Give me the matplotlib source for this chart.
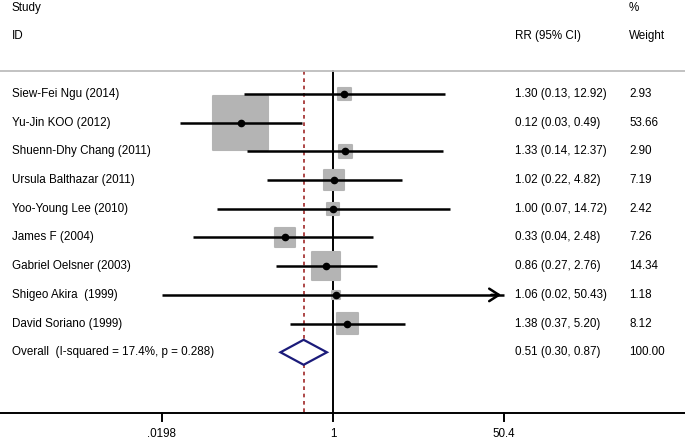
import numpy as np
import matplotlib
matplotlib.use("Agg")
import matplotlib.pyplot as plt

plt.rcParams['font.family'] = ['Liberation Sans', 'DejaVu Sans']

studies = ["Siew-Fei Ngu (2014)", "Yu-Jin KOO (2012)", "Shuenn-Dhy Chang (2011)",
           "Ursula Balthazar (2011)", "Yoo-Young Lee (2010)", "James F (2004)",
           "Gabriel Oelsner (2003)", "Shigeo Akira  (1999)", "David Soriano (1999)"]
rr = [1.30, 0.12, 1.33, 1.02, 1.00, 0.33, 0.86, 1.06, 1.38]
lo = [0.13, 0.03, 0.14, 0.22, 0.07, 0.04, 0.27, 0.02, 0.37]
hi = [12.92, 0.49, 12.37, 4.82, 14.72, 2.48, 2.76, 50.43, 5.20]
weights = [2.93, 53.66, 2.90, 7.19, 2.42, 7.26, 14.34, 1.18, 8.12]
overall_label = "Overall  (I-squared = 17.4%, p = 0.288)"
overall = (0.51, 0.30, 0.87)
overall_weight = 100.00
xticks = [0.0198, 1, 50.4]
xticklabels = [".0198", "1", "50.4"]

W, H = 685, 441
fig = plt.figure(figsize=(W / 100, H / 100), dpi=100)
ax = fig.add_axes([0, 0, 1, 1])
ax.set_xscale('log')
ax.axis('off')

# pixel calibration: tick .0198 at px 162, 1 at px 333, 50.4 at px 504
k = 171 / np.log(50.4)
x_left = np.exp(-333 / k)
x_right = np.exp((W - 333) / k)
ax.set_xlim(x_left, x_right)
row0, step = 94.0, 28.7
ax.set_ylim((H - row0) / step, -row0 / step)

def ypx(p):
    return (p - row0) / step

def xpx(p):
    return np.exp((p - 333) / k)

xmin_ax, xmax_ax = xticks[0], xticks[-1]
y_top = ypx(71)
y_axis = ypx(413)

# separator line
ax.plot([x_left, x_right], [y_top, y_top], color='#bdbdbd', lw=1.3, solid_capstyle='butt')
# bottom axis
ax.plot([x_left, x_right], [y_axis, y_axis], color='black', lw=1.4)
fs = 8.4
for t, lab in zip(xticks, xticklabels):
    ax.plot([t, t], [y_axis, ypx(421)], color='black', lw=1.4)
    ax.text(t, ypx(434), lab, ha='center', va='center', fontsize=fs)

# null line and overall line
ax.plot([1, 1], [y_top, y_axis], color='black', lw=1.4, zorder=1)
ax.plot([overall[0], overall[0]], [y_top, y_axis], color='#a02828', lw=1.2,
        ls=(0, (2.2, 2.2)), zorder=1)

# headers
ax.text(xpx(12), ypx(8), "Study", fontsize=fs, va='center', ha='left')
ax.text(xpx(12), ypx(36), "ID", fontsize=fs, va='center', ha='left')
ax.text(xpx(515), ypx(36), "RR (95% CI)", fontsize=fs, va='center', ha='left')
ax.text(xpx(629), ypx(8), "%", fontsize=fs, va='center', ha='left')
ax.text(xpx(629), ypx(36), "Weight", fontsize=fs, va='center', ha='left')

rows = np.arange(len(studies))
sizes = np.array(weights) * (38.9 ** 2 / 53.66)
ax.scatter(rr, rows, s=sizes, marker='s', color='#b4b4b4', edgecolor='#b4b4b4',
           linewidth=1.5, zorder=2)
for i in range(len(studies)):
    l = max(lo[i], xmin_ax)
    h = min(hi[i], xmax_ax)
    ax.plot([l, h], [i, i], color='black', lw=1.8, zorder=3, solid_capstyle='butt')
    if hi[i] > xmax_ax:
        ax.annotate("", xy=(xmax_ax, i), xytext=(xmax_ax * 0.7, i),
                    arrowprops=dict(arrowstyle='->,head_length=0.7,head_width=0.45',
                                    color='black', lw=1.8), zorder=3)
    ax.text(xpx(12), i, studies[i], fontsize=fs, va='center', ha='left')
    ax.text(xpx(515), i, f"{rr[i]:.2f} ({lo[i]:.2f}, {hi[i]:.2f})", fontsize=fs,
            va='center', ha='left')
    ax.text(xpx(629), i, f"{weights[i]:.2f}", fontsize=fs, va='center', ha='left')
ax.plot(rr, rows, 'o', color='black', markersize=4.5, zorder=4)

# overall diamond
yo = len(studies)
dh = 12.5 / step
ax.fill([overall[1], overall[0], overall[2], overall[0], overall[1]],
        [yo, yo - dh, yo, yo + dh, yo], facecolor='white', edgecolor='#1b1b7a',
        lw=1.6, zorder=3)
ax.text(xpx(12), yo, overall_label, fontsize=fs, va='center', ha='left')
ax.text(xpx(515), yo, f"{overall[0]:.2f} ({overall[1]:.2f}, {overall[2]:.2f})",
        fontsize=fs, va='center', ha='left')
ax.text(xpx(629), yo, f"{overall_weight:.2f}", fontsize=fs, va='center', ha='left')

fig.savefig("out.png", dpi=100)
